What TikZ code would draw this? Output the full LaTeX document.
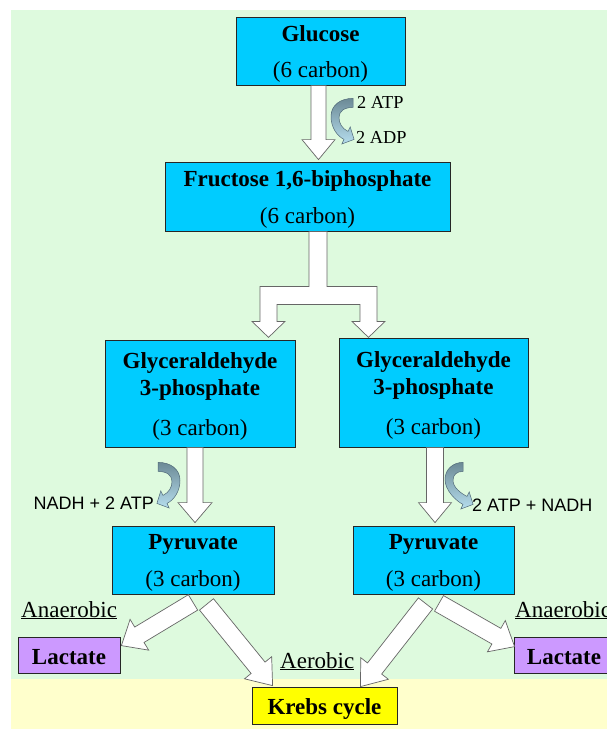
\documentclass[tikz,border=0pt]{standalone}
\usepackage{fontspec}
\setmainfont{Liberation Serif}
\newfontfamily\arialf{Liberation Sans}
\usetikzlibrary{calc,shadings}
\definecolor{bggreen}{RGB}{222,250,222}
\definecolor{bgyellow}{RGB}{255,255,204}
\definecolor{boxcyan}{RGB}{0,204,255}
\definecolor{lacpurple}{RGB}{204,153,255}
\definecolor{krebsyellow}{RGB}{255,255,0}
\definecolor{curvtop}{RGB}{108,138,150}
\definecolor{curvbot}{RGB}{182,222,238}
\definecolor{curvline}{RGB}{80,105,120}
\newcommand{\blockarr}[5]{%
  \coordinate (ba-a) at #1;
  \coordinate (ba-b) at #2;
  \coordinate (ba-h) at ($(ba-b)!#5!(ba-a)$);
  \path[barrow] ($(ba-a)!#3!90:(ba-b)$) -- ($(ba-h)!#3!-90:(ba-a)$) -- ($(ba-h)!#4!-90:(ba-a)$) -- (ba-b) -- ($(ba-h)!#4!90:(ba-a)$) -- ($(ba-h)!#3!90:(ba-a)$) -- ($(ba-a)!#3!-90:(ba-b)$) -- cycle;
}
\newcommand{\curvA}[1]{%
  \path[curv,#1] (0,0) .. controls (-13,0) and (-22,7) .. (-22,18) .. controls (-22,29) and (-16,37.5) .. (-9,41) -- (-11.2,45.6) -- (1.1,41) -- (-2.8,28.5) -- (-5,33) .. controls (-11,30) and (-14,25) .. (-14,19) .. controls (-14,13) and (-9,9) .. (0,9) -- cycle;
}
\newcommand{\curvB}[1]{%
  \path[curv,#1] (0,0) .. controls (-10,0) and (-18,7) .. (-18,17) .. controls (-18,28) and (-7,38.5) .. (0,42) -- (-2.2,46.6) -- (10.1,42) -- (6.2,29.5) -- (4,34) .. controls (-2,31) and (-10,25) .. (-10,18) .. controls (-10,12) and (-6,9) .. (0,9) -- cycle;
}
\newcommand{\tstrut}{\rule{0pt}{21.8pt}}
\begin{document}
\begin{tikzpicture}[x=1pt,y=-1pt,
  box/.style={draw=black!85, line width=0.8pt, fill=boxcyan, inner sep=0pt, align=center, font=\fontsize{23}{27.5}\selectfont},
  barrow/.style={fill=white, draw=black!60, line width=0.7pt, line join=miter},
  curv/.style={top color=curvtop, bottom color=curvbot, draw=curvline, line width=0.5pt},
  smalllab/.style={inner sep=0pt, font=\fontsize{18.3}{21}\selectfont},
  arlab/.style={inner sep=0pt, font=\arialf\fontsize{18}{21}\selectfont},
  lab/.style={inner sep=0pt, font=\fontsize{23}{27.5}\selectfont}]
\clip (0,0) rectangle (607,729);
\fill[white] (0,0) rectangle (607,729);
\fill[bggreen] (10.5,10) rectangle (607,679);
\fill[bgyellow] (10.5,679) rectangle (607,729);

% boxes
\node[box, minimum width=169pt, minimum height=68pt] (glucose) at (320.5,51) {\tstrut\textbf{Glucose}\\[8pt](6 carbon)};
\node[box, minimum width=285pt, minimum height=69pt] (fructose) at (307.5,196.5) {\tstrut\textbf{Fructose 1,6-biphosphate}\\[9.5pt](6 carbon)};
\node[box, minimum width=190pt, minimum height=107pt] (g3pL) at (200,393.5) {\tstrut\textbf{Glyceraldehyde}\\\textbf{3-phosphate}\\[12.5pt](3 carbon)};
\node[box, minimum width=189pt, minimum height=109pt] (g3pR) at (433.5,392.5) {\tstrut\textbf{Glyceraldehyde}\\\textbf{3-phosphate}\\[12.5pt](3 carbon)};
\node[box, minimum width=162pt, minimum height=68pt] (pyrL) at (193,560) {\tstrut\textbf{Pyruvate}\\[9.5pt](3 carbon)};
\node[box, minimum width=161pt, minimum height=68pt] (pyrR) at (433.5,560) {\tstrut\textbf{Pyruvate}\\[9.5pt](3 carbon)};
\node[box, fill=lacpurple, minimum width=102pt, minimum height=36pt] (lacL) at (69,655) {\rule{0pt}{19pt}\textbf{Lactate}};
\node[box, fill=lacpurple, minimum width=100pt, minimum height=36pt] (lacR) at (564,655) {\rule{0pt}{19pt}\textbf{Lactate}};
\node[box, fill=krebsyellow, minimum width=145pt, minimum height=37pt] (krebs) at (324.5,705.5) {\rule{0pt}{23pt}\textbf{Krebs cycle}};

% block arrows
\blockarr{($(glucose.south)+(-2,0)$)}{($(fructose.north)+(11,-2)$)}{7.5pt}{16.5pt}{20pt}
\begin{scope}[shift={(fructose.south)}]
\path[barrow] (1.5,0) -- (1.5,55) -- (-47.5,55) -- (-47.5,90) -- (-55.5,90) -- (-39,106) -- (-22.5,90) -- (-30.5,90) -- (-30.5,73) -- (52.5,73) -- (52.5,90) -- (44.5,90) -- (61,106) -- (77.5,90) -- (69.5,90) -- (69.5,55) -- (19.5,55) -- (19.5,0) -- cycle;
\end{scope}
\blockarr{($(g3pL.south)+(-5,0)$)}{($(pyrL.north)+(2,-3)$)}{8pt}{17pt}{20pt}
\blockarr{($(g3pR.south)+(1.5,0)$)}{($(pyrR.north)+(1.5,-3)$)}{8.5pt}{16.5pt}{20pt}
\blockarr{($(pyrL.south)+(0,8)$)}{($(lacL.north east)+(1,9)$)}{9pt}{18pt}{21pt}
\blockarr{($(pyrL.south)+(13.5,10)$)}{($(krebs.north west)+(21,-1)$)}{9pt}{17.5pt}{23pt}
\blockarr{($(pyrR.south)+(-8,9)$)}{($(krebs.north east)+(-37,0)$)}{9pt}{17.5pt}{23pt}
\blockarr{($(pyrR.south)+(5.5,9)$)}{($(lacR.north west)+(1,10)$)}{9pt}{18pt}{21pt}

% curved arrows
\curvA{shift={($(glucose.south)+(32.5,13)$)}}
\curvA{shift={($(g3pL.south)+(-42,15)$)}, xscale=-1}
\curvB{shift={($(g3pR.south)+(29.5,15)$)}}

% labels
\node[smalllab, anchor=west] (atp1) at (357,102) {2 ATP};
\node[smalllab, anchor=west] (adp1) at (356,137) {2 ADP};
\node[arlab, anchor=east] (nadhL) at (154,503) {NADH + 2 ATP};
\node[arlab, anchor=west] (nadhR) at (472,505) {2 ATP + NADH};
\node[lab, anchor=base west] (anaL) at (21,617) {\underline{Anaerobic}};
\node[lab, anchor=base west] (anaR) at (515,617) {\underline{Anaerobic}};
\node[lab, anchor=base west] (aer) at (280,668) {\underline{Aerobic}};
\end{tikzpicture}
\end{document}
